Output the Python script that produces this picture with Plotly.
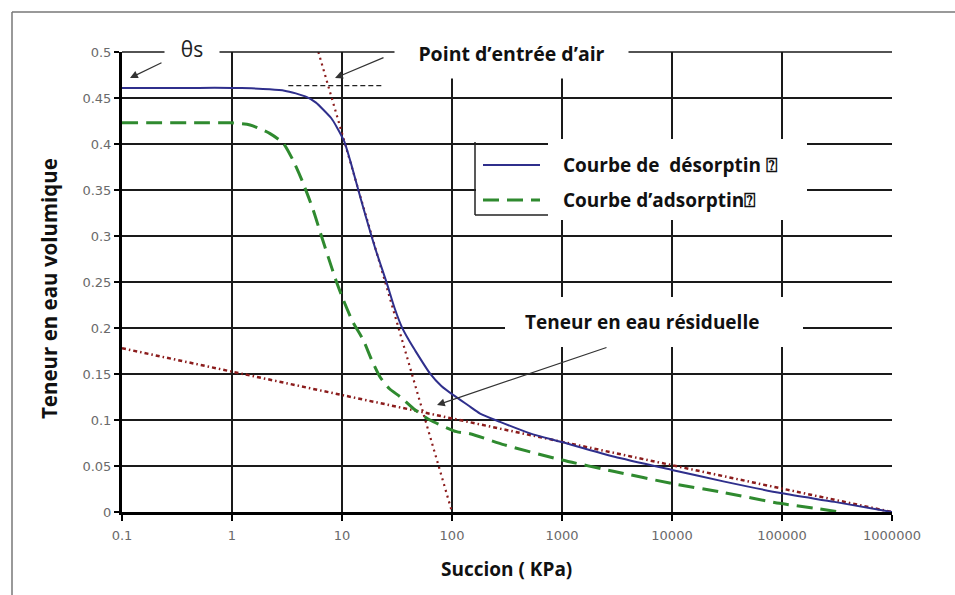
import plotly.graph_objects as go

# ---------------- data ----------------
suction_des = [0.1, 0.5, 1, 1.5, 2.2, 3, 3.8, 4.8, 5.8, 6.8, 8, 9, 10.5, 12, 15, 20, 25.5, 30, 35, 40, 46, 63, 80, 103, 140, 180, 273, 513,
               1000, 3000, 10000, 30000, 100000, 300000, 1000000]
theta_des = [0.461, 0.461, 0.461, 0.4605, 0.4595, 0.458, 0.455, 0.451, 0.445, 0.437, 0.428, 0.418, 0.4025, 0.38, 0.338, 0.287, 0.249, 0.222,
             0.201, 0.188, 0.176, 0.1507, 0.137, 0.127, 0.116, 0.107, 0.098, 0.0855,
             0.076, 0.06, 0.0457, 0.033, 0.0203, 0.011, 0.0]

suction_ads = [0.1, 0.5, 0.96, 1.46, 2.2, 2.93, 3.6, 4.45, 5.48, 6.5, 7.5, 8.8, 10.3, 12.5, 15.6, 18.5, 22.1, 27, 33.7, 45, 63, 110, 146,
               300, 1000, 3000, 10000, 30000, 95000, 200000, 336000]
theta_ads = [0.423, 0.423, 0.423, 0.4207, 0.4116, 0.4007, 0.382, 0.357, 0.328, 0.30, 0.277, 0.252, 0.2304, 0.207, 0.187, 0.166, 0.147,
             0.134, 0.1253, 0.112, 0.10, 0.0873, 0.085, 0.073, 0.0565, 0.044, 0.031, 0.021, 0.0094, 0.004, 0.0]

tangent_x = [6.1, 100]
tangent_y = [0.5, 0.0]
residual_x = [0.1, 1000000]
residual_y = [0.178, 0.0]
airentry_x = [3.25, 23.6]
airentry_y = [0.4635, 0.4635]

x_ticks = [0.1, 1, 10, 100, 1000, 10000, 100000, 1000000]
x_ticklabels = ["0.1", "1", "10", "100", "1000", "10000", "100000", "1000000"]
y_ticks = [0, 0.05, 0.1, 0.15, 0.2, 0.25, 0.3, 0.35, 0.4, 0.45, 0.5]
y_ticklabels = ["0", "0.05", "0.1", "0.15", "0.2", "0.25", "0.3", "0.35", "0.4", "0.45", "0.5"]

series_names = ["Courbe de  désorptin ⍰", "Courbe d’adsorptin⍰"]

BLUE = "#2f2f8c"
GREEN = "#2f8a2f"
RED = "#8b1c1c"
GRID = "#1a1a1a"
BOLD_FONT = "Open Sans"

fig = go.Figure()

# reference lines
fig.add_trace(go.Scatter(x=residual_x, y=residual_y, mode="lines", showlegend=False,
                         line=dict(color=RED, width=2.5, dash="4px,3px,1.5px,3px")))
fig.add_trace(go.Scatter(x=tangent_x, y=tangent_y, mode="lines", showlegend=False,
                         line=dict(color=RED, width=2.2, dash="2px,4px")))
fig.add_trace(go.Scatter(x=airentry_x, y=airentry_y, mode="lines", showlegend=False,
                         line=dict(color="#222222", width=1.3, dash="5px,3px")))
# curves
fig.add_trace(go.Scatter(x=suction_des, y=theta_des, mode="lines", name=series_names[0], showlegend=False,
                         line=dict(color=BLUE, width=2, shape="spline", smoothing=0.6)))
fig.add_trace(go.Scatter(x=suction_ads, y=theta_ads, mode="lines", name=series_names[1], showlegend=False,
                         line=dict(color=GREEN, width=3, dash="16px,8px", shape="spline", smoothing=0.6)))

# pixel <-> coordinate helpers (plot area: x 122..892 px, y 52..512 px)
def px_to_logx(px):
    return (px - 122) / 110 - 1

def px_to_x(px):
    return 10 ** px_to_logx(px)

def py_to_y(py):
    return (512 - py) / 920

def ppx(px):
    return (px - 122) / 770

def ppy(py):
    return (512 - py) / 460

shapes = []
# white boxes that interrupt the grid behind the residual text / legend
for (x0, x1, y0, y1) in [(505, 803, 297, 347), (476, 807, 145, 214), (548, 807, 139, 220)]:
    shapes.append(dict(type="rect", xref="x", yref="y", layer="between",
                       x0=px_to_x(x0), x1=px_to_x(x1), y0=py_to_y(y1), y1=py_to_y(y0),
                       fillcolor="white", line=dict(width=0)))
# top grid line (0.5), partly hidden by the boxed annotations above it
shapes.append(dict(type="line", xref="paper", yref="paper", x0=0, x1=1, y0=1, y1=1, layer="above",
                   line=dict(color=GRID, width=1.5)))
# legend partial border
shapes.append(dict(type="line", xref="paper", yref="paper", x0=ppx(475), x1=ppx(475), y0=ppy(142), y1=ppy(215),
                   line=dict(color="#222", width=1.5)))
shapes.append(dict(type="line", xref="paper", yref="paper", x0=ppx(475), x1=ppx(548), y0=ppy(215), y1=ppy(215),
                   line=dict(color="#222", width=1.5)))
# legend samples
shapes.append(dict(type="line", xref="paper", yref="paper", x0=ppx(483), x1=ppx(540), y0=ppy(165), y1=ppy(165),
                   line=dict(color=BLUE, width=2)))
shapes.append(dict(type="line", xref="paper", yref="paper", x0=ppx(483), x1=ppx(540), y0=ppy(200), y1=ppy(200),
                   line=dict(color=GREEN, width=3, dash="16px,8px")))
# outer frame
shapes.append(dict(type="line", xref="paper", yref="paper", x0=ppx(12), x1=ppx(960), y0=ppy(12), y1=ppy(12),
                   line=dict(color="#777", width=1.5)))
shapes.append(dict(type="line", xref="paper", yref="paper", x0=ppx(12), x1=ppx(12), y0=ppy(12), y1=ppy(600),
                   line=dict(color="#777", width=1.5)))

bold = dict(family=BOLD_FONT, size=19, color="#111", weight="bold")

annotations = []
# texts (boxed ones hide the grid behind them)
annotations.append(dict(text="θs", xref="paper", yref="paper", x=ppx(192), y=ppy(49), showarrow=False,
                        xanchor="center", yanchor="middle", width=54, height=24, bgcolor="white", borderpad=0,
                        font=dict(family="Open Sans", size=21, color="#222")))
annotations.append(dict(text="Point d’entrée d’air", xref="paper", yref="paper", x=ppx(511.5), y=ppy(53),
                        showarrow=False, xanchor="center", yanchor="middle", width=233, height=50,
                        bgcolor="white", borderpad=0, font=dict(bold, size=19.5)))
annotations.append(dict(text="Teneur en eau résiduelle", xref="paper", yref="paper", x=ppx(642), y=ppy(322),
                        xanchor="center", yanchor="middle", showarrow=False, font=bold))
annotations.append(dict(text=series_names[0], xref="paper", yref="paper", x=ppx(561), y=ppy(165), xanchor="left",
                        yanchor="middle", showarrow=False, font=bold))
annotations.append(dict(text=series_names[1], xref="paper", yref="paper", x=ppx(561), y=ppy(200), xanchor="left",
                        yanchor="middle", showarrow=False, font=bold))
annotations.append(dict(text="Succion ( KPa)", xref="paper", yref="paper", x=ppx(506), y=ppy(569),
                        xanchor="center", yanchor="middle", showarrow=False, font=bold))
annotations.append(dict(text="Teneur en eau volumique", xref="paper", yref="paper", x=ppx(49), y=ppy(289),
                        xanchor="center", yanchor="middle", showarrow=False, textangle=-90,
                        font=dict(bold, size=20.5)))
# arrows (head at x,y ; tail at ax,ay)
for (tx, ty, hx, hy) in [(163, 62, 130, 78), (385, 57, 335, 78), (608, 347, 437, 405)]:
    annotations.append(dict(text="", xref="x", yref="y", axref="x", ayref="y",
                            x=px_to_logx(hx), y=py_to_y(hy), ax=px_to_logx(tx), ay=py_to_y(ty),
                            showarrow=True, arrowhead=2, arrowsize=1.3, arrowwidth=1.2, arrowcolor="#333"))

tickfont = dict(family="DejaVu Sans", size=13, color="#6a6a6a")
fig.update_layout(
    width=955, height=595, autosize=False,
    margin=dict(l=122, r=63, t=52, b=83),
    paper_bgcolor="white", plot_bgcolor="white",
    showlegend=False,
    shapes=shapes, annotations=annotations,
    xaxis=dict(type="log", range=[-1, 6], tickvals=x_ticks, ticktext=x_ticklabels,
               showgrid=True, gridcolor=GRID, gridwidth=1.5,
               showline=True, linecolor="black", linewidth=3,
               ticks="outside", ticklen=6, tickwidth=2, tickcolor="black",
               ticklabelstandoff=3, tickfont=tickfont, zeroline=False),
    yaxis=dict(range=[0, 0.5], tickvals=y_ticks, ticktext=y_ticklabels,
               showgrid=True, gridcolor=GRID, gridwidth=1.5,
               showline=True, linecolor="black", linewidth=3,
               ticks="outside", ticklen=5, tickwidth=2, tickcolor="black",
               tickfont=tickfont, zeroline=False),
)

fig.write_html("out.html")
